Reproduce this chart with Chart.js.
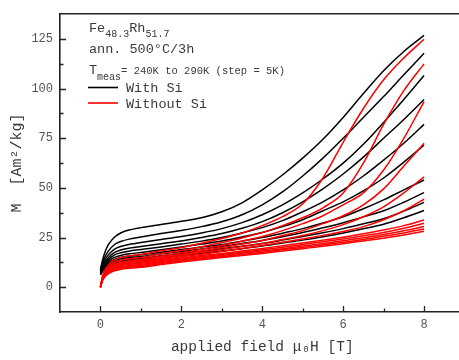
<!DOCTYPE html>
<html>
<head>
<meta charset="utf-8">
<script src="https://cdn.jsdelivr.net/npm/chart.js@4"></script>
<style>
html, body { margin: 0; padding: 0; background: #fff; overflow: hidden; }
#wrap { width: 466px; height: 360px; }
</style>
</head>
<body>
<div id="wrap"><canvas id="magChart" width="466" height="360"></canvas></div>
<script>
// applied field (T), same grid for every curve
const fieldT = [0, 0.05, 0.1, 0.2, 0.35, 0.5, 0.75, 1, 1.5, 2, 2.5, 3, 3.5, 4, 4.5, 5, 5.5, 6, 6.5, 7, 7.5, 8];

// M (Am^2/kg), with Si (black)
const withSi1 = [9, 13.5, 17, 21.5, 25.3, 27.3, 29, 30, 31.6, 33.2, 35, 38, 42.5, 49, 56.5, 65, 74.5, 85.5, 97.5, 109, 118.7, 126.8];
const withSi2 = [8.5, 12, 14.8, 18.3, 21.5, 23, 24.4, 25.3, 27, 28.6, 30.5, 33, 36.5, 41.5, 48, 56, 65, 75, 85.5, 96, 107, 117.8];
const withSi3 = [8, 11, 13.4, 16.4, 19.2, 20.5, 21.7, 22.5, 24, 25.5, 27.3, 29.5, 32.5, 36.5, 41.5, 47.5, 54.5, 62.5, 72, 83, 94.5, 106.6];
const withSi4 = [7.5, 10.2, 12.3, 15, 17.5, 18.7, 19.8, 20.5, 21.9, 23.3, 25, 27, 29.7, 33, 37.5, 43, 49.5, 57, 65.5, 75, 84.5, 94.5];
const withSi5 = [7.2, 9.7, 11.6, 14, 16.3, 17.3, 18.3, 19, 20.3, 21.7, 23.2, 25, 27.3, 30, 33.5, 38, 43, 49, 56, 64, 72.5, 82];
const withSi6 = [7, 9.2, 10.9, 13.1, 15, 16, 16.9, 17.5, 18.8, 20.2, 21.7, 23.3, 25.3, 27.5, 30.5, 34, 38.5, 43, 48.5, 55, 63, 71.5];
const withSi7 = [6.8, 8.8, 10.4, 12.3, 14, 15, 15.7, 16.3, 17.6, 19, 20.2, 21.5, 23.2, 25, 27.2, 29.5, 32.3, 35.5, 39.5, 44, 49, 54];
const withSi8 = [6.6, 8.5, 10, 11.8, 13.4, 14.3, 15, 15.5, 16.8, 18, 19.2, 20.5, 22, 23.5, 25.4, 27.5, 29.9, 32.5, 35.4, 38.5, 42.8, 47.6];
const withSi9 = [6.4, 8.2, 9.5, 11.2, 12.6, 13.4, 14, 14.5, 15.8, 17, 18.1, 19.3, 20.6, 22, 23.7, 25.5, 27.4, 29.5, 31.9, 34.5, 38.3, 42.7];
const withSi10 = [6.2, 7.9, 9.1, 10.6, 12, 12.6, 13.3, 13.7, 14.8, 16, 17.1, 18.2, 19.4, 20.7, 22.2, 23.7, 25.4, 27.3, 29.4, 31.7, 35, 38.6];

// M (Am^2/kg), without Si (red)
const noSi1 = [0, 5.5, 8.2, 11.2, 13.7, 14.9, 15.9, 16.5, 18.3, 20, 22.2, 24.5, 27.3, 31, 35.5, 42, 55, 73, 90, 104.5, 115.5, 124.9];
const noSi2 = [0, 5, 7.5, 10.2, 12.5, 13.5, 14.4, 15, 16.8, 18.5, 20.4, 22.5, 24.8, 27.5, 31, 35, 40, 47.5, 62.5, 82, 99, 112.5];
const noSi3 = [0, 4.6, 7, 9.5, 11.6, 12.6, 13.4, 14, 15.7, 17.3, 19.1, 21, 23.1, 25.5, 28.5, 32, 36, 41.5, 47.5, 59, 75, 93.5];
const noSi4 = [0, 4.5, 6.7, 9.2, 11.2, 12.2, 13, 13.5, 15, 16.5, 18.2, 20, 21.7, 23.5, 26, 28.5, 32, 36, 41.5, 49.5, 61, 72.5];
const noSi5 = [0, 4.3, 6.5, 8.8, 10.8, 11.7, 12.5, 13, 14.5, 16, 17.5, 19, 20.5, 22, 24, 26, 28.5, 31.5, 35.5, 40.5, 47.5, 55.6];
const noSi6 = [0, 4.1, 6.2, 8.5, 10.4, 11.3, 12, 12.5, 13.9, 15.3, 16.6, 18, 19.5, 21, 22.6, 24.3, 26.1, 28, 30.5, 34, 38.5, 44.3];
const noSi7 = [0, 4, 6, 8.2, 10, 10.8, 11.5, 12, 13.4, 14.7, 15.9, 17, 18.2, 19.5, 20.9, 22.3, 23.7, 25.2, 26.9, 28.8, 31, 33.8];
const noSi8 = [0, 3.8, 5.7, 7.8, 9.5, 10.4, 11, 11.5, 12.9, 14.2, 15.4, 16.5, 17.6, 18.8, 20.1, 21.5, 22.9, 24.3, 25.9, 27.6, 29.7, 32.2];
const noSi9 = [0, 3.6, 5.5, 7.5, 9.1, 9.9, 10.6, 11, 12.4, 13.7, 14.9, 16, 17.1, 18.2, 19.4, 20.7, 22, 23.4, 24.9, 26.5, 28.4, 30.6];
const noSi10 = [0, 3.5, 5.2, 7.1, 8.7, 9.5, 10.1, 10.5, 11.9, 13.2, 14.3, 15.4, 16.5, 17.6, 18.8, 20, 21.3, 22.6, 24, 25.6, 27.3, 29.3];
const noSi11 = [0, 3.3, 5, 6.8, 8.3, 9, 9.6, 10, 11.4, 12.7, 13.8, 14.9, 15.9, 17, 18.2, 19.4, 20.6, 21.9, 23.3, 24.7, 26.3, 28.2];

const withSiCurves = [withSi1, withSi2, withSi3, withSi4, withSi5, withSi6, withSi7, withSi8, withSi9, withSi10];
const noSiCurves = [noSi1, noSi2, noSi3, noSi4, noSi5, noSi6, noSi7, noSi8, noSi9, noSi10, noSi11];

const xTicks = [0, 2, 4, 6, 8];
const xMinorTicks = [1, 3, 5, 7];
const yTicks = [0, 25, 50, 75, 100, 125];
const yMinorTicks = [12.5, 37.5, 62.5, 87.5, 112.5];

const FONT = "'Liberation Mono', 'Courier New', monospace";
const TXT = "#3a3a3a";

const toPoints = (vals) => fieldT.map((h, i) => ({ x: h, y: vals[i] }));

const datasets = [];
for (let i = 0; i < noSiCurves.length; i++) {
    if (withSiCurves[i]) {
        datasets.push({ label: "With Si", data: toPoints(withSiCurves[i]), borderColor: "#000000" });
    }
    datasets.push({ label: "Without Si", data: toPoints(noSiCurves[i]), borderColor: "#ff0000" });
}

// ticks drawn inside the frame + text block + legend
const decorations = {
    id: "decorations",
    afterDraw(chart) {
        const { ctx, chartArea: a, scales: { x, y } } = chart;
        ctx.save();
        ctx.strokeStyle = "#222";
        ctx.lineWidth = 1.3;
        ctx.beginPath();
        xTicks.forEach(v => { const p = Math.round(x.getPixelForValue(v)) + 0.5; ctx.moveTo(p, a.bottom); ctx.lineTo(p, a.bottom - 6); });
        xMinorTicks.forEach(v => { const p = Math.round(x.getPixelForValue(v)) + 0.5; ctx.moveTo(p, a.bottom); ctx.lineTo(p, a.bottom - 3.5); });
        yTicks.forEach(v => { const p = Math.round(y.getPixelForValue(v)) + 0.5; ctx.moveTo(a.left, p); ctx.lineTo(a.left + 6, p); });
        yMinorTicks.forEach(v => { const p = Math.round(y.getPixelForValue(v)) + 0.5; ctx.moveTo(a.left, p); ctx.lineTo(a.left + 3.5, p); });
        ctx.stroke();

        ctx.fillStyle = TXT;
        ctx.textBaseline = "alphabetic";
        ctx.textAlign = "left";
        const big = "13.5px " + FONT;
        const small = "10px " + FONT;
        const put = (str, px, py, font) => { ctx.font = font; ctx.fillText(str, px, py); return px + ctx.measureText(str).width; };

        let cx = put("Fe", 89, 32, big);
        cx = put("48.3", cx, 36.5, small);
        cx = put("Rh", cx, 32, big);
        put("51.7", cx, 36.5, small);

        put("ann. 500°C/3h", 89, 53, big);

        cx = put("T", 89, 74, big);
        cx = put("meas", cx, 79.5, small);
        put("= 240K to 290K (step = 5K)", cx, 74, "10.5px " + FONT);

        ctx.lineWidth = 1.6;
        ctx.strokeStyle = "#000000";
        ctx.beginPath(); ctx.moveTo(88, 87.5); ctx.lineTo(118, 87.5); ctx.stroke();
        put("With Si", 126, 92, big);
        ctx.strokeStyle = "#ff0000";
        ctx.beginPath(); ctx.moveTo(88, 103); ctx.lineTo(118, 103); ctx.stroke();
        put("Without Si", 126, 107.5, big);
        ctx.restore();
    }
};

new Chart(document.getElementById("magChart"), {
    type: "line",
    data: { datasets: datasets },
    options: {
        responsive: false,
        animation: false,
        layout: { padding: { left: 0, right: 1.5, top: 0, bottom: 0 } },
        plugins: { legend: { display: false }, tooltip: { enabled: false } },
        elements: {
            point: { radius: 0 },
            line: { borderWidth: 1.5, cubicInterpolationMode: "monotone", fill: false }
        },
        scales: {
            x: {
                type: "linear",
                position: "bottom",
                min: -1,
                max: 9,
                afterBuildTicks: s => { s.ticks = xTicks.map(v => ({ value: v })); },
                afterFit: s => { s.height = 48; },
                grid: { display: false, drawTicks: false },
                border: { display: true, color: "#222", width: 1.6 },
                ticks: { color: "#555", font: { family: FONT, size: 12 }, padding: 6 },
                title: { display: true, text: "applied field μ₀H [T]", color: TXT, font: { family: FONT, size: 14.5 }, padding: { top: 4, bottom: 4 } }
            },
            xTop: {
                type: "linear",
                axis: "x",
                position: "top",
                min: -1,
                max: 9,
                afterFit: s => { s.height = 4; },
                grid: { display: false, drawTicks: false },
                border: { display: true, color: "#222", width: 1.6 },
                ticks: { display: false }
            },
            y: {
                type: "linear",
                min: -12.5,
                max: 137.5,
                afterBuildTicks: s => { s.ticks = yTicks.map(v => ({ value: v })); },
                afterFit: s => { s.width = 60; },
                grid: { display: false, drawTicks: false },
                border: { display: true, color: "#222", width: 1.6 },
                ticks: { color: "#555", font: { family: FONT, size: 12 }, padding: 7 },
                title: { display: true, text: "M  [Am²/kg]", color: TXT, font: { family: FONT, size: 15 }, padding: { top: 8, bottom: 0 } }
            }
        }
    },
    plugins: [decorations]
});
</script>
</body>
</html>
